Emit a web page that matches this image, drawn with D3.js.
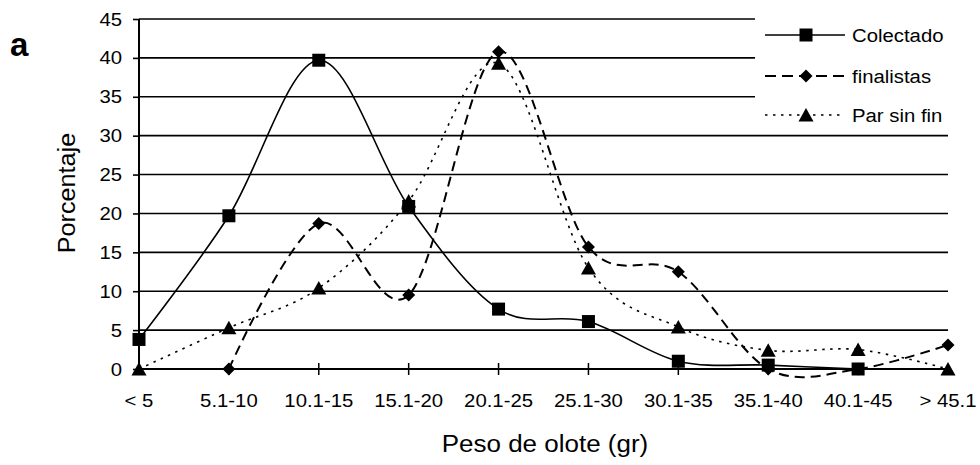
<!DOCTYPE html>
<html><head><meta charset="utf-8">
<script src="https://cdn.jsdelivr.net/npm/d3@7"></script>
<style>html,body{margin:0;padding:0;background:#fff;}svg{display:block;font-family:"Liberation Sans",Arial,sans-serif;}</style>
</head><body>
<svg id="chart" width="980" height="465"></svg>
<script>
const categories = ["< 5","5.1-10","10.1-15","15.1-20","20.1-25","25.1-30","30.1-35","35.1-40","40.1-45","> 45.1"];
const colectado  = [3.8, 19.7, 39.7, 20.9, 7.7, 6.1, 1.0, 0.5, 0.0, null];
const finalistas = [null, 0.0, 18.7, 9.5, 40.8, 15.7, 12.5, 0.0, 0.0, 3.1];
const parSinFin  = [0.0, 5.3, 10.4, 21.6, 39.3, 13.0, 5.4, 2.4, 2.5, 0.0];
const yTicks = [0,5,10,15,20,25,30,35,40,45];
const seriesNames = ["Colectado","finalistas","Par sin fin"];

const svg = d3.select("#chart");
const SX = 1.13;
const x = d3.scalePoint().domain(categories).range([139, 948]);
const y = d3.scaleLinear().domain([0,45]).range([369, 19]);

function stretchedText(g, tx, ty, str, size, anchor, sx, weight){
  return g.append("text")
    .attr("transform", `translate(${tx},${ty}) scale(${sx},1)`)
    .attr("text-anchor", anchor)
    .attr("font-size", size)
    .attr("font-weight", weight || "normal")
    .attr("fill", "#000")
    .text(str);
}

// gridlines
svg.append("g").selectAll("line").data(yTicks.filter(d=>d>0)).join("line")
  .attr("x1", 139).attr("x2", 948)
  .attr("y1", d=>y(d)).attr("y2", d=>y(d))
  .attr("stroke", "#000").attr("stroke-width", 1.6);

// y axis
const yAxis = d3.axisLeft(y).tickValues(yTicks).tickSize(6).tickFormat("");
const ya = svg.append("g").attr("transform","translate(139,0)").call(yAxis);
ya.select(".domain").attr("stroke","#000").attr("stroke-width",2).attr("d", `M0,${y(45)}V${y(0)}`);
ya.selectAll(".tick line").attr("stroke","#000").attr("stroke-width",1.6);
const ylab = svg.append("g");
yTicks.forEach(v => stretchedText(ylab, 122, y(v)+6.5, String(v), 18, "end", SX));

// x axis
svg.append("line").attr("x1",139).attr("x2",948).attr("y1",y(0)).attr("y2",y(0))
  .attr("stroke","#000").attr("stroke-width",2);
svg.append("g").selectAll("line").data(categories.slice(1, categories.length-1)).join("line")
  .attr("x1", d=>x(d)).attr("x2", d=>x(d)).attr("y1", y(0)-6).attr("y2", y(0)+6)
  .attr("stroke","#000").attr("stroke-width",1.5);
const xlab = svg.append("g");
categories.forEach(c => stretchedText(xlab, x(c), 407, c, 18, "middle", SX));

// axis titles
stretchedText(svg, 545, 452, "Peso de olote (gr)", 23, "middle", SX);
svg.append("text")
  .attr("transform","translate(75,193) rotate(-90) scale(1.2,1.1)")
  .attr("text-anchor","middle").attr("font-size",21).attr("fill","#000")
  .text("Porcentaje");
svg.append("text").attr("x",10).attr("y",56).attr("font-size",33).attr("font-weight","bold").text("a");

// legend background
svg.append("rect").attr("x",755).attr("y",10).attr("width",200).attr("height",118).attr("fill","#fff");

// series
const styles = {
  "Colectado": {dash:null, width:1.6, marker:"square"},
  "finalistas": {dash:"10,6", width:2, marker:"diamond"},
  "Par sin fin": {dash:"2.5,5.5", width:1.6, marker:"triangle"}
};
const dataBy = {"Colectado":colectado, "finalistas":finalistas, "Par sin fin":parSinFin};
const line = d3.line().defined(d=>d.v!=null).x(d=>x(d.c)).y(d=>y(d.v)).curve(d3.curveCatmullRom.alpha(0));

function marker(g, type, cx, cy){
  if(type==="square"){
    g.append("rect").attr("x",cx-6.5).attr("y",cy-6.5).attr("width",13).attr("height",13).attr("fill","#000");
  } else if(type==="diamond"){
    g.append("path").attr("d",`M${cx},${cy-6.5}L${cx+6.5},${cy}L${cx},${cy+6.5}L${cx-6.5},${cy}Z`).attr("fill","#000");
  } else {
    g.append("path").attr("d",`M${cx},${cy-7}L${cx+7.5},${cy+6.5}L${cx-7.5},${cy+6.5}Z`).attr("fill","#000");
  }
}

const order = ["finalistas","Colectado","Par sin fin"];
order.forEach(name => {
  const st = styles[name];
  const pts = categories.map((c,i)=>({c, v:dataBy[name][i]}));
  const p = svg.append("path").datum(pts).attr("d", line)
    .attr("fill","none").attr("stroke","#000").attr("stroke-width",st.width);
  if(st.dash) p.attr("stroke-dasharray", st.dash);
});
order.forEach(name => {
  const st = styles[name];
  const g = svg.append("g");
  categories.forEach((c,i)=>{ const v=dataBy[name][i]; if(v!=null) marker(g, st.marker, x(c), y(v)); });
});

// legend
const legY = [35, 76, 115];
seriesNames.forEach((name,i)=>{
  const st = styles[name];
  const l = svg.append("line").attr("x1",765).attr("x2",845).attr("y1",legY[i]).attr("y2",legY[i])
    .attr("stroke","#000").attr("stroke-width",st.width);
  if(st.dash) l.attr("stroke-dasharray", name==="finalistas" ? "11,6" : "2.5,5.5");
  marker(svg, st.marker, 806, legY[i]);
  stretchedText(svg, 852, legY[i]+6.5, name, 18, "start", SX);
});
</script>
</body></html>
